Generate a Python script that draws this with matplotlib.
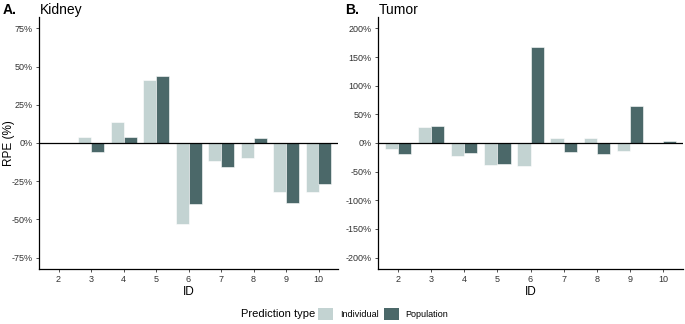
import matplotlib
matplotlib.use("Agg")
import matplotlib.pyplot as plt
from matplotlib.patches import Patch
from matplotlib.ticker import FuncFormatter
import numpy as np

plt.rcParams['font.family'] = ['Liberation Sans', 'DejaVu Sans']

ids = ["2", "3", "4", "5", "6", "7", "8", "9", "10"]
kidney_individual = [0, 4, 14, 41, -53, -12, -10, -32, -32]
kidney_population = [0, -6, 4, 44, -40, -16, 3, -39, -27]
tumor_individual = [-11, 28, -23, -38, -40, 9, 8, -14, 0]
tumor_population = [-20, 30, -17, -36, 167, -16, -20, 65, 3]

kidney_ticks = [-75, -50, -25, 0, 25, 50, 75]
tumor_ticks = [-200, -150, -100, -50, 0, 50, 100, 150, 200]

c_ind = "#c3d3d2"
c_pop = "#4b6869"

W, H = 685, 324
fig = plt.figure(figsize=(W / 100, H / 100), dpi=100)

def fx(px):
    return px / W

def fy(py):
    return 1 - py / H

axA = fig.add_axes([fx(39), fy(269), fx(338) - fx(39), fy(17) - fy(269)])
axB = fig.add_axes([fx(378), fy(269), fx(683) - fx(378), fy(17) - fy(269)])

def draw(ax, ind, pop, ticks, lim):
    x = np.arange(len(ids))
    w = 0.4
    ax.bar(x - w / 2, ind, width=w, color=c_ind, edgecolor="white", linewidth=0.4, zorder=2)
    ax.bar(x + w / 2, pop, width=w, color=c_pop, edgecolor="white", linewidth=0.4, zorder=2)
    ax.axhline(0, color="black", linewidth=0.9, zorder=3)
    ax.set_xlim(-0.6, len(ids) - 0.4)
    ax.set_ylim(-lim, lim)
    ax.set_xticks(x)
    ax.set_xticklabels(ids)
    ax.set_yticks(ticks)
    ax.yaxis.set_major_formatter(FuncFormatter(lambda v, p: f"{int(v)}%"))
    for s in ["top", "right"]:
        ax.spines[s].set_visible(False)
    for s in ["left", "bottom"]:
        ax.spines[s].set_linewidth(0.9)
        ax.spines[s].set_color("black")
    ax.tick_params(axis="both", labelsize=6.5, labelcolor="#333333", color="#333333",
                   length=2.5, width=0.6, pad=2)
    ax.set_xlabel("ID", fontsize=8.5, labelpad=1)

draw(axA, kidney_individual, kidney_population, kidney_ticks, 82.5)
draw(axB, tumor_individual, tumor_population, tumor_ticks, 220)
axA.set_ylabel("RPE (%)", fontsize=8.5)
axA.yaxis.set_label_coords((15 - 39) / (338 - 39), 0.5)

fig.text(fx(3), fy(10), "A.", fontsize=10, fontweight="bold", va="center", ha="left")
fig.text(fx(40), fy(10), "Kidney", fontsize=10, va="center", ha="left")
fig.text(fx(345), fy(10), "B.", fontsize=10, fontweight="bold", va="center", ha="left")
fig.text(fx(379), fy(10), "Tumor", fontsize=10, va="center", ha="left")

fig.text(fx(241), fy(314), "Prediction type", fontsize=8, va="center", ha="left")
handles = [Patch(facecolor=c_ind, edgecolor="none", label="Individual"),
           Patch(facecolor=c_pop, edgecolor="none", label="Population")]
fig.legend(handles=handles, loc="center left", bbox_to_anchor=(fx(318), fy(314)),
           ncol=2, frameon=False, fontsize=6.5, handlelength=1.7, handleheight=1.7,
           handletextpad=0.7, columnspacing=0.6, borderpad=0, borderaxespad=0)

fig.savefig("out.png", dpi=100)
